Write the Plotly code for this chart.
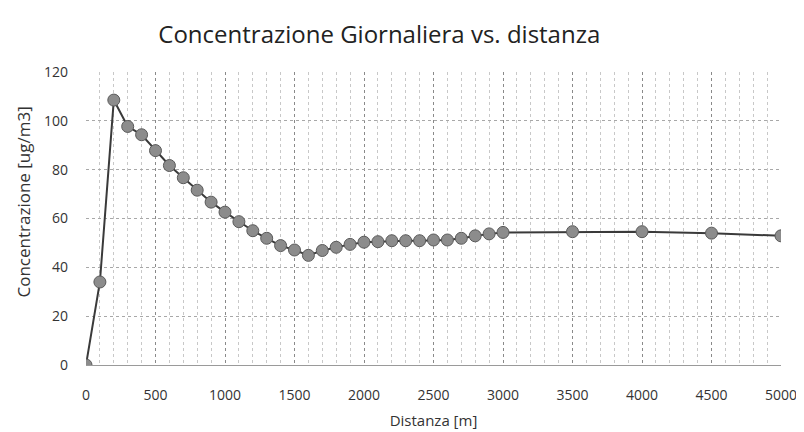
import plotly.graph_objects as go

distanza = [0, 100, 200, 300, 400, 500, 600, 700, 800, 900, 1000,
            1100, 1200, 1300, 1400, 1500, 1600, 1700, 1800, 1900, 2000,
            2100, 2200, 2300, 2400, 2500, 2600, 2700, 2800, 2900, 3000,
            3500, 4000, 4500, 5000]
concentrazione = [0, 34, 108.5, 97.7, 94.3, 87.8, 81.7, 76.7, 71.6, 66.7, 62.6,
                  58.7, 55.0, 51.9, 48.9, 47.1, 44.9, 46.9, 48.2, 49.4, 50.3,
                  50.5, 50.9, 50.9, 50.9, 51.2, 51.2, 51.9, 52.9, 53.7, 54.3,
                  54.6, 54.6, 54.0, 52.9]

x_ticks = [0, 500, 1000, 1500, 2000, 2500, 3000, 3500, 4000, 4500, 5000]
y_ticks = [0, 20, 40, 60, 80, 100, 120]

font_family = "Open Sans, Liberation Sans, sans-serif"

fig = go.Figure()
fig.add_trace(go.Scatter(
    x=distanza, y=concentrazione, mode="lines+markers",
    line=dict(color="#3a3a3a", width=2),
    marker=dict(size=12, color="#8c8c8c", line=dict(color="#5a5a5a", width=1)),
    showlegend=False,
))

fig.update_layout(
    width=796, height=424,
    margin=dict(l=78, r=23, t=64, b=67, autoexpand=False),
    paper_bgcolor="white", plot_bgcolor="white",
    font=dict(family=font_family, color="#333333"),
    title=dict(text="Concentrazione Giornaliera vs. distanza",
               xref="paper", x=0.422, xanchor="center",
               yref="container", y=0.938, yanchor="middle",
               font=dict(size=24, color="#222222")),
    annotations=[dict(
        text="Concentrazione [ug/m3]", textangle=-90,
        xref="paper", yref="paper", x=0, y=0.5,
        xanchor="center", yanchor="middle",
        xshift=-63, yshift=16, showarrow=False,
        font=dict(size=17, color="#333333"),
    )],
)
fig.update_xaxes(
    range=[0, 5000], tickvals=x_ticks, ticktext=[str(v) for v in x_ticks],
    showgrid=True, gridcolor="#8a8a8a", griddash="dot", gridwidth=1,
    minor=dict(dtick=100, showgrid=True, gridcolor="#c8c8c8", griddash="dot", gridwidth=1),
    zeroline=False, showline=True, linecolor="#9a9a9a", linewidth=1,
    ticks="", ticklabelstandoff=17, tickfont=dict(size=14, color="#333333"),
    automargin=False,
    title=dict(text="Distanza [m]", font=dict(size=15, color="#333333"), standoff=12),
)
fig.update_yaxes(
    range=[0, 120], tickvals=y_ticks, ticktext=[str(v) for v in y_ticks],
    showgrid=True, gridcolor="#a8a8a8", griddash="dot", gridwidth=1,
    zeroline=False, showline=False,
    ticks="", ticklabelstandoff=17, tickfont=dict(size=14, color="#333333"),
    automargin=False,
)

fig.write_html("out.html")
